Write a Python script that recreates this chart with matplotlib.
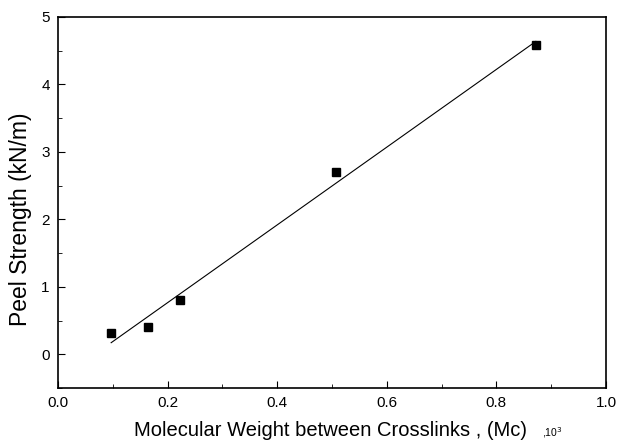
import numpy as np
import matplotlib
matplotlib.use("Agg")
import matplotlib.pyplot as plt
from matplotlib.ticker import MultipleLocator, FormatStrFormatter

plt.rcParams['font.family'] = ['Liberation Sans', 'DejaVu Sans']

mc = [0.097, 0.165, 0.222, 0.507, 0.872]
peel = [0.32, 0.40, 0.80, 2.70, 4.58]

W, H = 617, 441
fig = plt.figure(figsize=(W/100, H/100), dpi=100)
ax = fig.add_axes([58/W, 1-388/H, (606-58)/W, (388-17)/H])

slope, icpt = np.polyfit(mc, peel, 1)
xf = np.array([min(mc), max(mc)])
ax.plot(xf, slope*xf + icpt, color='black', lw=0.8)
ax.plot(mc, peel, 's', color='black', ms=6, ls='none')

ax.set_xlim(0, 1.0)
ax.set_ylim(-0.5, 5)
ax.xaxis.set_major_locator(MultipleLocator(0.2))
ax.xaxis.set_minor_locator(MultipleLocator(0.1))
ax.yaxis.set_major_locator(MultipleLocator(1))
ax.yaxis.set_minor_locator(MultipleLocator(0.5))
ax.xaxis.set_major_formatter(FormatStrFormatter('%.1f'))
ax.yaxis.set_major_formatter(FormatStrFormatter('%d'))
ax.tick_params(which='both', direction='in', top=False, right=False, labelsize=11, pad=6)
ax.tick_params(which='major', length=5)
ax.tick_params(which='minor', length=3)
for s in ax.spines.values():
    s.set_linewidth(1.2)

fig.text(21/W, 1-219/H, 'Peel Strength (kN/m)', fontsize=16.5, rotation=90,
         ha='center', va='center')
fig.text(331/W, 1-430/H, 'Molecular Weight between Crosslinks , (Mc)', fontsize=14.5,
         ha='center', va='center')
fig.text(542/W, 1-436/H, r',10$^3$', fontsize=7.5, ha='left', va='baseline')

fig.savefig('out.png', dpi=100)
